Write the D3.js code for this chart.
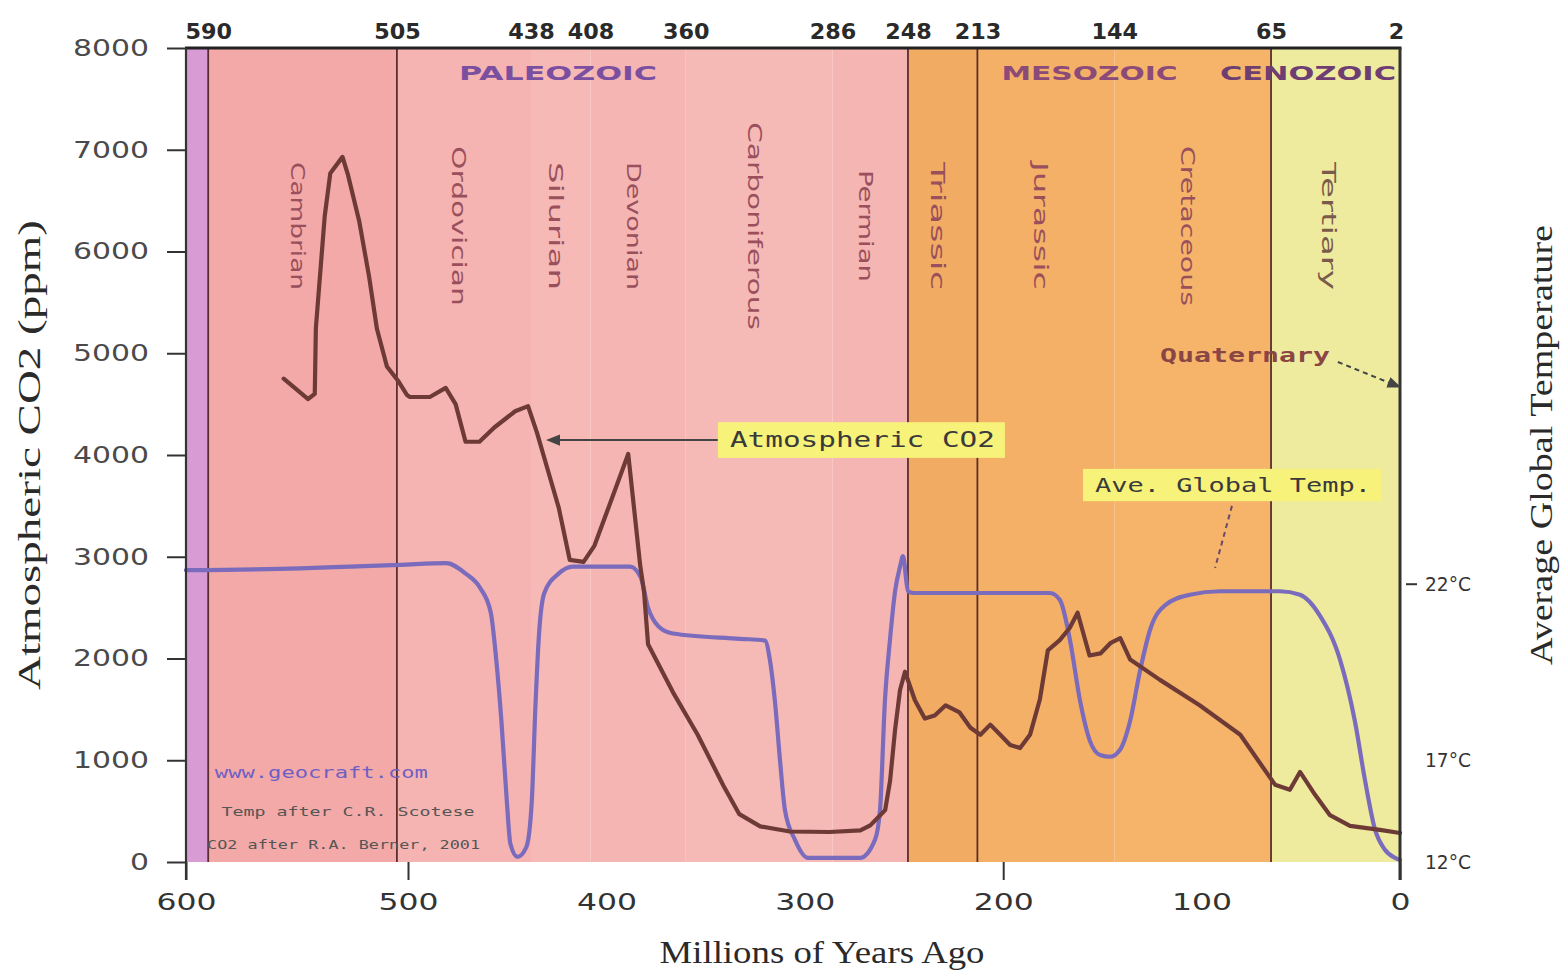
<!DOCTYPE html>
<html><head><meta charset="utf-8">
<script src="https://cdn.jsdelivr.net/npm/d3@7"></script>
<style>body{margin:0;background:#fff}</style>
</head><body>
<svg id="chart" width="1564" height="976"></svg>
<script>
// ---------- DATA ----------
const periodNames = ["Precambrian","Cambrian","Ordovician","Silurian","Devonian","Carboniferous","Permian","Triassic","Jurassic","Cretaceous","Tertiary","Quaternary"];
const periodBounds = [600,590,505,438,408,360,286,248,213,144,65,2,0];
const labelledPeriods = ["Cambrian","Ordovician","Silurian","Devonian","Carboniferous","Permian","Triassic","Jurassic","Cretaceous","Tertiary"];
const boundaryLines = [590,505,248,213,65];
const eraNames = ["PALEOZOIC","MESOZOIC","CENOZOIC"];
const eraStarts = [590,248,65];
const eraEnds = [248,65,0];
const topTickValues = [590,505,438,408,360,286,248,213,144,65,2];
const bottomTickValues = [600,500,400,300,200,100,0];
const bottomTickMarks = [600,500,200,0];
const co2TickValues = [0,1000,2000,3000,4000,5000,6000,7000,8000];
const tempTickValues = [12,17,22];
const tempTickMarks = [22];

// Atmospheric CO2 (ppm), [million years ago, ppm]
const co2Ages = [556,545,542,541.5,537.5,535,529.5,527,522,517.5,514,509.5,504.5,500.5,499,489,481,476,471,464,456.5,446,439.5,435,429.5,424,418.5,411.5,406,399,389,383,381,379,366.5,354,341,333,322.5,307.5,287.5,272,267,262,259.5,257,254.5,252,249.5,244.5,239.5,234.5,229,222,216.5,211.5,206.5,201.5,196.5,191.5,186.5,181.5,177.5,171.5,166.5,162.5,156.5,151,146,141,136,121,101,80.5,63,55.5,50.4,42.8,35.3,25.2,10.1,0];
const co2Values = [4750,4550,4600,5250,6350,6770,6930,6750,6300,5750,5240,4870,4730,4590,4570,4570,4660,4500,4130,4130,4270,4430,4480,4220,3850,3480,2970,2950,3110,3480,4010,2920,2650,2140,1670,1250,750,470,350,300,295,310,360,460,510,800,1300,1690,1870,1590,1410,1440,1540,1470,1320,1250,1350,1250,1150,1120,1250,1600,2080,2180,2300,2450,2030,2050,2150,2200,1990,1790,1540,1250,760,710,885,660,460,355,315,285];

// Average global temperature (°C)
const tempAges = [600,548.6,526,503.6,480.8,470.9,463.7,458.3,455.6,452.9,450.2,448.4,444.8,440.3,437.6,435.8,434,431.3,424.1,416.9,388.1,382.7,379.1,373.7,366.5,332.7,320.1,317.6,315.1,312.5,310,305,298.4,272.2,264.6,262.1,259.6,257.1,254.5,252,250.5,248,244.5,176.4,171.4,166.3,161.3,156.3,151.2,146.2,141.1,136.1,131,126,118.5,105.9,90.7,60.5,50.4,40.3,30.2,22.7,17.6,12.6,7.6,2.5,0];
const tempValues = [22.4,22.45,22.5,22.55,22.6,22.3,21.9,21.2,19.9,18.1,15.0,12.9,12.25,12.75,15.0,18.5,20.55,21.75,22.3,22.5,22.5,22.2,21.35,20.8,20.6,20.45,20.4,19.85,18.7,17.0,14.55,13.1,12.2,12.2,13.1,14.55,18.7,20.4,21.8,22.5,22.8,21.8,21.75,21.75,21.55,20.4,18.7,17.55,17.15,17.1,17.3,18.1,19.55,20.7,21.4,21.7,21.8,21.8,21.7,21.1,19.85,18.1,16.0,13.6,12.6,12.2,12.1];

// annotations (text, anchored in data units: age, ppm)
const annotationTexts = ["Atmospheric CO2","Ave. Global Temp.","Quaternary","www.geocraft.com","Temp after C.R. Scotese","CO2 after R.A. Berner, 2001"];
const annotationAges = [343.8,159.8,120.9,587,584,590.5];
const annotationValues = [4147,3705,4983,885,490,165];

// ---------- STYLE ----------
const periodColors = {Precambrian:"#d99bd3",Cambrian:"#f3a9a7",Ordovician:"#f5b4b1",Silurian:"#f6b9b6",Devonian:"#f5b6b3",Carboniferous:"#f6bab6",Permian:"#f5b5b2",Triassic:"#f2ab62",Jurassic:"#f4b066",Cretaceous:"#f5b46a",Tertiary:"#eeeb9e",Quaternary:"#eeeb9e"};
const eraColors = {PALEOZOIC:"#7b4fa0",MESOZOIC:"#8b4a78",CENOZOIC:"#6e3d72"};
const annStyle = {
  "Atmospheric CO2":{size:21,len:265,fill:"#3a3a3a",box:true,family:"DejaVu Sans Mono"},
  "Ave. Global Temp.":{size:19,len:276,fill:"#3a3a3a",box:true,family:"DejaVu Sans Mono"},
  "Quaternary":{size:20,len:170,fill:"#8a4545",box:false,family:"DejaVu Sans Mono",weight:"bold"},
  "www.geocraft.com":{size:16,len:213,fill:"#6f5fc4",box:false,family:"DejaVu Sans Mono"},
  "Temp after C.R. Scotese":{size:12,len:253,fill:"#555",box:false,family:"DejaVu Sans Mono"},
  "CO2 after R.A. Berner, 2001":{size:12,len:273,fill:"#555",box:false,family:"DejaVu Sans Mono"}
};

// ---------- LAYOUT ----------
const W = 1564, H = 976;
const L = 186, R = 1400, T = 48, B = 862;
const svg = d3.select("#chart");
svg.append("rect").attr("width",W).attr("height",H).attr("fill","#fff");

const x = d3.scaleLinear().domain([600,500,0]).range([L,408,R]);
const y = d3.scaleLinear().domain([0,8000]).range([B,T]);
const yT = d3.scaleLinear().domain([12,17,22]).range([y(0),y(1000),y(2730)]);

// period background bands
const periods = periodNames.map((n,i)=>({name:n,start:periodBounds[i],end:periodBounds[i+1]}));
svg.append("g").selectAll("rect").data(periods).join("rect")
  .attr("x",d=>x(d.start)).attr("width",d=>x(d.end)-x(d.start))
  .attr("y",T).attr("height",B-T)
  .attr("fill",d=>periodColors[d.name]);

// boundary lines
svg.append("g").selectAll("line").data(boundaryLines).join("line")
  .attr("x1",d=>x(d)).attr("x2",d=>x(d)).attr("y1",T).attr("y2",B)
  .attr("stroke","#5a2e2e").attr("stroke-width",1.8);

// era labels
const eraG = svg.append("g");
eraNames.forEach((n,i)=>{
  const len = 22*n.length;
  let cx = (x(eraStarts[i])+x(eraEnds[i]))/2;
  cx = Math.min(cx, R-4-len/2);
  eraG.append("text").attr("x",cx).attr("y",T+32)
    .attr("text-anchor","middle")
    .attr("font-family","DejaVu Sans Condensed, DejaVu Sans").attr("font-weight","bold")
    .attr("font-size",20).attr("fill",eraColors[n])
    .attr("textLength",len).attr("lengthAdjust","spacingAndGlyphs")
    .text(n);
});

// period labels (vertical)
svg.append("g").selectAll("text").data(periods.filter(p=>labelledPeriods.includes(p.name))).join("text")
  .attr("transform",d=>`translate(${(x(d.start)+x(d.end))/2 - 6},${T+178}) rotate(90)`)
  .attr("text-anchor","middle").attr("dominant-baseline","middle")
  .attr("font-family","DejaVu Sans").attr("font-size",19)
  .attr("fill",d=>d.name==="Tertiary"?"#7a5a4a":"#9a4f5c")
  .attr("textLength",d=>16*d.name.length).attr("lengthAdjust","spacingAndGlyphs")
  .text(d=>d.name);

// curves
const tempLine = d3.line().x((d,i)=>x(tempAges[i])).y((d,i)=>yT(tempValues[i])).curve(d3.curveMonotoneX);
svg.append("path").datum(tempValues).attr("d",tempLine)
  .attr("fill","none").attr("stroke","#7a6bbd").attr("stroke-width",4.2)
  .attr("stroke-linejoin","round").attr("stroke-linecap","round");

const co2Line = d3.line().x((d,i)=>x(co2Ages[i])).y((d,i)=>y(co2Values[i]));
svg.append("path").datum(co2Values).attr("d",co2Line)
  .attr("fill","none").attr("stroke","#6e3a36").attr("stroke-width",4.2)
  .attr("stroke-linejoin","round").attr("stroke-linecap","round");

// frame lines
svg.append("line").attr("x1",L-1).attr("x2",R+1.5).attr("y1",T).attr("y2",T).attr("stroke","#222").attr("stroke-width",3);
svg.append("line").attr("x1",R).attr("x2",R).attr("y1",T).attr("y2",B+18).attr("stroke","#333").attr("stroke-width",3);
svg.append("line").attr("x1",L).attr("x2",L).attr("y1",T).attr("y2",B+18).attr("stroke","#333").attr("stroke-width",2.2);

// left axis
const yAxis = svg.append("g").attr("transform",`translate(${L},0)`)
  .call(d3.axisLeft(y).tickValues(co2TickValues).tickSize(19).tickPadding(18).tickFormat(d3.format("d")));
yAxis.select(".domain").remove();
yAxis.selectAll("line").attr("stroke","#333").attr("stroke-width",2);
yAxis.selectAll("text").attr("font-family","DejaVu Sans").attr("font-size",23).attr("fill","#4a4a4a")
  .attr("textLength",function(){return 19*this.textContent.length;}).attr("lengthAdjust","spacingAndGlyphs");

// bottom axis
const xAxis = svg.append("g").attr("transform",`translate(0,${B})`)
  .call(d3.axisBottom(x).tickValues(bottomTickValues).tickSize(18).tickPadding(14).tickFormat(d3.format("d")));
xAxis.select(".domain").remove();
xAxis.selectAll(".tick line").attr("stroke","#333").attr("stroke-width",2)
  .attr("opacity",d=>bottomTickMarks.includes(d)?1:0);
xAxis.selectAll("text").attr("font-family","DejaVu Sans").attr("font-size",23).attr("fill","#333")
  .attr("textLength",function(){return 20*this.textContent.length;}).attr("lengthAdjust","spacingAndGlyphs");

// top axis (period boundaries)
const topAxis = svg.append("g").attr("transform",`translate(0,${T})`)
  .call(d3.axisTop(x).tickValues(topTickValues).tickSize(0).tickPadding(9).tickFormat(d3.format("d")));
topAxis.select(".domain").remove();
topAxis.selectAll("text").attr("font-family","DejaVu Sans Condensed, DejaVu Sans").attr("font-weight","bold")
  .attr("font-size",21).attr("fill","#2a2a2a")
  .attr("textLength",function(){return 15.5*this.textContent.length;}).attr("lengthAdjust","spacingAndGlyphs");

// right axis (temperature)
const rG = svg.append("g");
rG.selectAll("line").data(tempTickMarks).join("line")
  .attr("x1",R+6).attr("x2",R+17).attr("y1",d=>yT(d)).attr("y2",d=>yT(d))
  .attr("stroke","#333").attr("stroke-width",2);
rG.selectAll("text").data(tempTickValues).join("text")
  .attr("x",R+25).attr("y",d=>yT(d)).attr("dy","0.35em")
  .attr("font-family","DejaVu Sans").attr("font-size",20).attr("fill","#333")
  .attr("textLength",46).attr("lengthAdjust","spacingAndGlyphs")
  .text(d=>d+"°C");

// titles
svg.append("text").attr("transform",`translate(40,455) rotate(-90)`)
  .attr("text-anchor","middle").attr("font-family","Liberation Serif, DejaVu Serif").attr("font-size",31).attr("fill","#2a2a2a")
  .attr("textLength",470).attr("lengthAdjust","spacingAndGlyphs").text("Atmospheric CO2 (ppm)");
svg.append("text").attr("transform",`translate(1552,445) rotate(-90)`)
  .attr("text-anchor","middle").attr("font-family","Liberation Serif, DejaVu Serif").attr("font-size",31).attr("fill","#2a2a2a")
  .attr("textLength",440).attr("lengthAdjust","spacingAndGlyphs").text("Average Global Temperature");
svg.append("text").attr("x",822).attr("y",963)
  .attr("text-anchor","middle").attr("font-family","Liberation Serif, DejaVu Serif").attr("font-size",31).attr("fill","#2a2a2a")
  .attr("textLength",325).attr("lengthAdjust","spacingAndGlyphs").text("Millions of Years Ago");

// pointers
const defs = svg.append("defs");
defs.append("marker").attr("id","arr").attr("viewBox","0 0 10 10").attr("refX",5).attr("refY",5)
  .attr("markerWidth",7).attr("markerHeight",7).attr("orient","auto-start-reverse")
  .append("path").attr("d","M0,1 L10,5 L0,9 z").attr("fill","#444");
svg.append("line").attr("x1",x(426.9)).attr("y1",y(4147)).attr("x2",x(343.8)).attr("y2",y(4147))
  .attr("stroke","#444").attr("stroke-width",2).attr("marker-start","url(#arr)");
svg.append("line").attr("x1",x(84.7)).attr("y1",y(3500)).attr("x2",x(93.2)).attr("y2",y(2890))
  .attr("stroke","#6a4a6a").attr("stroke-width",2).attr("stroke-dasharray","5,4");
svg.append("line").attr("x1",x(31.3)).attr("y1",y(4914)).attr("x2",x(2.6)).attr("y2",y(4688))
  .attr("stroke","#444").attr("stroke-width",2).attr("stroke-dasharray","5,4").attr("marker-end","url(#arr)");

// annotations
const annG = svg.append("g");
annotationTexts.forEach((t,i)=>{
  const s = annStyle[t];
  const ax = x(annotationAges[i]), ay = y(annotationValues[i]);
  if (s.box) {
    annG.append("rect").attr("x",ax).attr("y",ay-s.size*0.85).attr("width",s.len+22).attr("height",s.size*1.7)
      .attr("fill","#f7f27a");
  }
  annG.append("text").attr("x",s.box?ax+12:ax).attr("y",ay).attr("dy","0.35em")
    .attr("font-family",s.family).attr("font-size",s.size).attr("font-weight",s.weight||"normal")
    .attr("fill",s.fill).attr("textLength",s.len).attr("lengthAdjust","spacingAndGlyphs").text(t);
});
</script>
</body></html>
